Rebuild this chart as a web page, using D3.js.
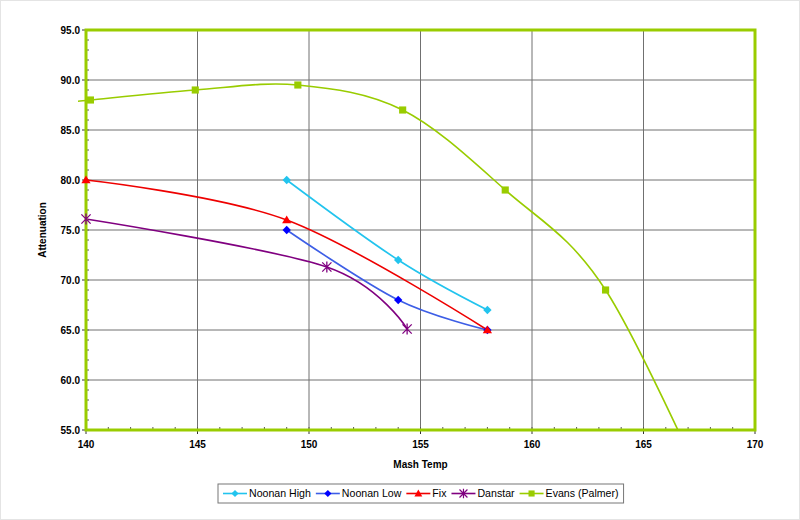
<!DOCTYPE html>
<html>
<head>
<meta charset="utf-8">
<script src="https://cdn.jsdelivr.net/npm/d3@7"></script>
<style>
  body { margin: 0; background: #fff; }
  svg { font-family: "Liberation Sans", Arial, sans-serif; }
</style>
</head>
<body>
<svg id="chart" width="800" height="520"></svg>
<script>
// Chart data
const seriesNames = ["Noonan High", "Noonan Low", "Fix", "Danstar", "Evans (Palmer)"];
const noonanHigh = [[149, 80], [154, 72], [158, 67]];
const noonanLow = [[149, 75], [154, 68], [158, 65]];
const fix = [[140, 80], [149, 76], [158, 65]];
const danstar = [[140, 76.1], [150.8, 71.3], [154.4, 65.1]];
const evans = [[139.6, 87.85], [140.2, 88], [144.9, 89], [149.5, 89.5], [154.2, 87], [158.8, 79], [163.3, 69], [168.4, 46]];
const xTicks = [140, 145, 150, 155, 160, 165, 170];
const yTicks = [55, 60, 65, 70, 75, 80, 85, 90, 95];

const seriesStyle = [
    { data: noonanHigh, line: "#22c4ee", fill: "#22c4ee", marker: "diamond" },
    { data: noonanLow, line: "#3d5ee6", fill: "#0000ff", marker: "diamond" },
    { data: fix, line: "#ee0000", fill: "#ff0000", marker: "triangle" },
    { data: danstar, line: "#800080", fill: "#800080", marker: "star" },
    { data: evans, line: "#99cc00", fill: "#99cc00", marker: "square" }
];

const svg = d3.select("#chart");
const margin = { left: 86, top: 30, right: 45, bottom: 90 };
const width = 800 - margin.left - margin.right;
const height = 520 - margin.top - margin.bottom;

// light outer frame
svg.append("rect")
    .attr("x", 0.5).attr("y", 0.5)
    .attr("width", 799).attr("height", 519)
    .attr("fill", "none").attr("stroke", "#e4e4e4");

const g = svg.append("g").attr("transform", `translate(${margin.left},${margin.top})`);

const x = d3.scaleLinear().domain([140, 170]).range([0, width]);
const y = d3.scaleLinear().domain([55, 95]).range([height, 0]);

// grid
g.append("g").selectAll("line")
    .data(xTicks.slice(1, -1))
    .join("line")
    .attr("x1", d => x(d)).attr("x2", d => x(d))
    .attr("y1", 0).attr("y2", height)
    .attr("stroke", "#707070").attr("stroke-width", 1);
g.append("g").selectAll("line")
    .data(yTicks.slice(1, -1))
    .join("line")
    .attr("x1", 0).attr("x2", width)
    .attr("y1", d => y(d)).attr("y2", d => y(d))
    .attr("stroke", "#707070").attr("stroke-width", 1);

// minor tick marks (inside)
g.append("g").selectAll("line")
    .data(d3.range(141, 170))
    .join("line")
    .attr("x1", d => x(d)).attr("x2", d => x(d))
    .attr("y1", height).attr("y2", height - 3)
    .attr("stroke", "#555");
g.append("g").selectAll("line")
    .data(d3.range(56, 95))
    .join("line")
    .attr("x1", 0).attr("x2", 3)
    .attr("y1", d => y(d)).attr("y2", d => y(d))
    .attr("stroke", "#555");
// major ticks (outside)
g.append("g").selectAll("line")
    .data(xTicks)
    .join("line")
    .attr("x1", d => x(d)).attr("x2", d => x(d))
    .attr("y1", height).attr("y2", height + 4)
    .attr("stroke", "#333");
g.append("g").selectAll("line")
    .data(yTicks)
    .join("line")
    .attr("x1", -4).attr("x2", 0)
    .attr("y1", d => y(d)).attr("y2", d => y(d))
    .attr("stroke", "#333");

// tick labels
g.append("g").selectAll("text")
    .data(xTicks)
    .join("text")
    .attr("x", d => x(d)).attr("y", height + 18)
    .attr("text-anchor", "middle")
    .attr("font-size", 10).attr("font-weight", "bold")
    .text(d => d);
g.append("g").selectAll("text")
    .data(yTicks)
    .join("text")
    .attr("x", -6).attr("y", d => y(d) + 3.5)
    .attr("text-anchor", "end")
    .attr("font-size", 10).attr("font-weight", "bold")
    .text(d => d3.format(".1f")(d));

// axis titles
g.append("text")
    .attr("x", width / 2).attr("y", height + 38)
    .attr("text-anchor", "middle")
    .attr("font-size", 10).attr("font-weight", "bold")
    .text("Mash Temp");
g.append("text")
    .attr("transform", `translate(${-40},${height / 2}) rotate(-90)`)
    .attr("text-anchor", "middle")
    .attr("font-size", 10).attr("font-weight", "bold")
    .text("Attenuation");

// clip: plot area, a little room on the left like the original
svg.append("defs").append("clipPath").attr("id", "plot-clip")
    .append("rect")
    .attr("x", -8).attr("y", -2)
    .attr("width", width + 10).attr("height", height + 2);

const line = d3.line()
    .x(d => x(d[0]))
    .y(d => y(d[1]))
    .curve(d3.curveCatmullRom.alpha(0));

function markerPath(type, s) {
    if (type === "diamond") {
        return `M0,${-s}L${s},0L0,${s}L${-s},0Z`;
    } else if (type === "triangle") {
        return `M0,${-s * 1.1}L${s * 1.1},${s * 0.8}L${-s * 1.1},${s * 0.8}Z`;
    } else if (type === "square") {
        return `M${-s * 0.85},${-s * 0.85}h${s * 1.7}v${s * 1.7}h${-s * 1.7}Z`;
    }
    // asterisk
    const r = s * 1.1;
    return `M${-r},${-r}L${r},${r}M${-r},${r}L${r},${-r}M0,${-r * 1.2}L0,${r * 1.2}`;
}

const inDomain = d => d[0] >= 140 && d[0] <= 170 && d[1] >= 55 && d[1] <= 95;

seriesStyle.forEach(s => {
    g.append("path")
        .datum(s.data)
        .attr("clip-path", "url(#plot-clip)")
        .attr("fill", "none")
        .attr("stroke", s.line)
        .attr("stroke-width", 1.6)
        .attr("d", line);
});

// plot border
g.append("rect")
    .attr("x", 0).attr("y", 0)
    .attr("width", width).attr("height", height)
    .attr("fill", "none")
    .attr("stroke", "#99cc00")
    .attr("stroke-width", 3);

seriesStyle.forEach(s => {
    g.append("g").selectAll("path")
        .data(s.data.filter(inDomain))
        .join("path")
        .attr("transform", d => `translate(${x(d[0])},${y(d[1])})`)
        .attr("d", markerPath(s.marker, 4.2))
        .attr("fill", s.marker === "star" ? "none" : s.fill)
        .attr("stroke", s.marker === "star" ? s.fill : "none")
        .attr("stroke-width", 1.3);
});

// legend
const legend = svg.append("g").attr("transform", "translate(218,484)");
const legendBox = legend.append("rect")
    .attr("height", 19)
    .attr("fill", "#fff")
    .attr("stroke", "#777");
let lx = 5;
seriesNames.forEach((name, i) => {
    const s = seriesStyle[i];
    const item = legend.append("g").attr("transform", `translate(${lx},9.5)`);
    item.append("line")
        .attr("x1", 0).attr("x2", 24)
        .attr("stroke", s.line).attr("stroke-width", 1.6);
    item.append("path")
        .attr("transform", "translate(12,0)")
        .attr("d", markerPath(s.marker, 3.6))
        .attr("fill", s.marker === "star" ? "none" : s.fill)
        .attr("stroke", s.marker === "star" ? s.fill : "none")
        .attr("stroke-width", 1.2);
    const t = item.append("text")
        .attr("x", 26).attr("y", 3.8)
        .attr("font-size", 10.6)
        .text(name);
    lx += 26 + t.node().getComputedTextLength() + 5;
});
legendBox.attr("width", lx);
</script>
</body>
</html>
